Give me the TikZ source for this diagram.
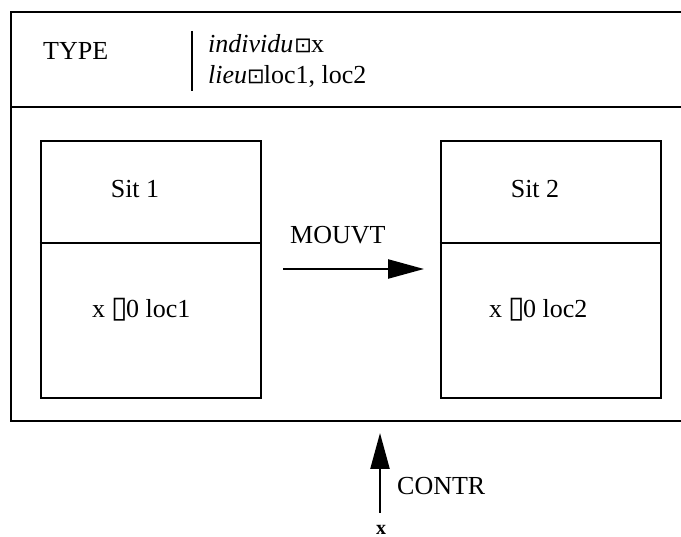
\documentclass[tikz,border=0pt]{standalone}
\usepackage{fontspec}
\setmainfont{Liberation Serif}
\newfontfamily\symfont{DejaVu Sans}
\usetikzlibrary{arrows.meta}
\tikzset{
  frameline/.style={line width=2.4pt, line cap=rect},
  sitbox/.style={draw, line width=2.4pt, minimum width=220pt, minimum height=257pt, inner sep=0pt},
  txt/.style={font=\fontsize{26}{31}\selectfont, inner sep=0pt, anchor=base west},
  bigarrow/.style={line width=2.4pt, -{Triangle[length=36pt, width=19pt]}},
}
\newcommand{\dotbox}{{\symfont\fontsize{21}{21}\selectfont ⊡}}
\newcommand{\tallbox}{{\symfont\fontsize{30}{30}\selectfont ▯}}
\begin{document}
\begin{tikzpicture}[x=1pt, y=-1pt]
\useasboundingbox (0,0) rectangle (681,537);
% outer frame
\draw[frameline] (690,12) -- (11,12) -- (11,421) -- (690,421);
\draw[frameline] (11,107) -- (690,107);
\draw[line width=2.4pt] (192,31) -- (192,91);
% header texts
\node[txt] (type) at (43,60) {TYPE};
\node[txt] (ind) at (208,53) {\textit{individu}\kern1pt\dotbox\kern-1pt x};
\node[txt] (lieu) at (208,84) {\textit{lieu}\dotbox\kern-1pt loc1, loc2};
% situation boxes
\node[sitbox] (s1) at (151,269.5) {};
\node[sitbox] (s2) at (551,269.5) {};
\draw[line width=2.4pt] (s1.west |- 0,243) -- (s1.east |- 0,243);
\draw[line width=2.4pt] (s2.west |- 0,243) -- (s2.east |- 0,243);
\node[txt, anchor=base] (sit1) at (135,198) {Sit 1};
\node[txt, anchor=base] (sit2) at (535,198) {Sit 2};
\node[txt] (c1) at (92,318) {x \tallbox\kern-2pt0 loc1};
\node[txt] (c2) at (489,318) {x \tallbox\kern-2pt0 loc2};
% movement arrow
\node[txt] (mouvt) at (290,244) {MOUVT};
\coordinate (ma) at (283,269);
\coordinate (mb) at (424,269);
\draw[bigarrow] (ma) -- (mb);
% control arrow
\node[txt] (contr) at (397,495) {CONTR};
\node[font=\fontsize{20}{20}\selectfont\bfseries, inner sep=0pt, anchor=base] (xb) at (381,535) {x};
\coordinate (cb) at (380,513);
\coordinate (ct) at (380,433);
\draw[bigarrow] (cb) -- (ct);
\end{tikzpicture}
\end{document}
